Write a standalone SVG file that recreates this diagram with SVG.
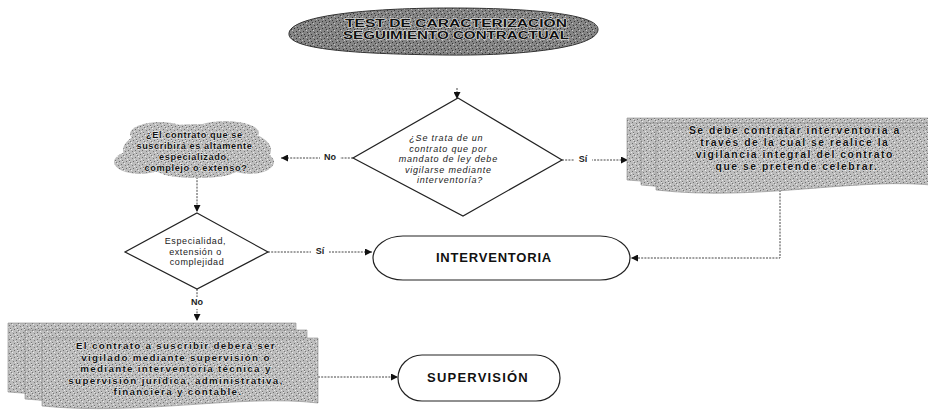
<svg xmlns="http://www.w3.org/2000/svg" width="928" height="415" viewBox="0 0 928 415">
<defs>
  <pattern id="stip" width="7" height="7" patternUnits="userSpaceOnUse">
    <rect width="7" height="7" fill="#bdbdbd"/>
    <rect x="0" y="0" width="1" height="1" fill="#6e6e6e"/>
    <rect x="4" y="1" width="1" height="1" fill="#777"/>
    <rect x="2" y="3" width="1" height="1" fill="#707070"/>
    <rect x="6" y="4" width="1" height="1" fill="#7a7a7a"/>
    <rect x="3" y="6" width="1" height="1" fill="#727272"/>
    <rect x="5" y="2" width="1" height="1" fill="#ececec"/>
    <rect x="1" y="5" width="1" height="1" fill="#e8e8e8"/>
    <rect x="3" y="0" width="1" height="1" fill="#e4e4e4"/>
  </pattern>
  <pattern id="stipDark" width="7" height="7" patternUnits="userSpaceOnUse">
    <rect width="7" height="7" fill="#858585"/>
    <rect x="0" y="0" width="1" height="1" fill="#333"/>
    <rect x="4" y="1" width="1" height="1" fill="#3a3a3a"/>
    <rect x="2" y="3" width="1" height="1" fill="#363636"/>
    <rect x="6" y="4" width="1" height="1" fill="#3c3c3c"/>
    <rect x="3" y="6" width="1" height="1" fill="#383838"/>
    <rect x="5" y="2" width="1" height="1" fill="#c8c8c8"/>
    <rect x="1" y="5" width="1" height="1" fill="#c0c0c0"/>
  </pattern>
  <marker id="arr" viewBox="0 0 10 10" refX="10" refY="5" markerWidth="7" markerHeight="7" orient="auto" markerUnits="userSpaceOnUse">
    <path d="M0,0 L10,5 L0,10 Z" fill="#111"/>
  </marker>
</defs>
<style>
  .conn { fill: none; stroke: #444; stroke-width: 1; stroke-dasharray: 2 1.2; }
  .lbl { font-family: "Liberation Sans", Arial, sans-serif; font-size: 9px; font-weight: bold; fill: #222; text-anchor: middle; dominant-baseline: middle; }
  .shape { stroke: #222; stroke-width: 1.2; fill: #fff; }
  .stip { fill: url(#stip); stroke: #8a8a8a; stroke-width: 0.6; }
  .btxt { font-family: "Liberation Sans", Arial, sans-serif; font-weight: bold; fill: #111; text-anchor: middle; stroke: #f2f2f2; stroke-width: 0.8; paint-order: stroke; }
  .dtxt { font-family: "Liberation Sans", Arial, sans-serif; fill: #222; text-anchor: middle; }
  .term { font-family: "Liberation Sans", Arial, sans-serif; font-weight: bold; fill: #111; text-anchor: middle; dominant-baseline: middle; }
</style>

<g id="connectors">
  <line class="conn" x1="457" y1="88" x2="457" y2="99" marker-end="url(#arr)"/>
  <line class="conn" x1="353" y1="158" x2="281" y2="158" marker-end="url(#arr)"/>
  <line class="conn" x1="197" y1="177" x2="197" y2="212" marker-end="url(#arr)"/>
  <line class="conn" x1="562" y1="160" x2="628" y2="160" marker-end="url(#arr)"/>
  <line class="conn" x1="268" y1="252" x2="372" y2="252" marker-end="url(#arr)"/>
  <polyline class="conn" points="780,190 780,258 631,258" marker-end="url(#arr)"/>
  <line class="conn" x1="197" y1="289" x2="197" y2="321" marker-end="url(#arr)"/>
  <line class="conn" x1="318" y1="377" x2="398" y2="377" marker-end="url(#arr)"/>
  <rect x="320" y="152" width="20" height="12" fill="#fff"/>
  <text class="lbl" x="330" y="158">No</text>
  <rect x="574" y="154" width="18" height="12" fill="#fff"/>
  <text class="lbl" x="583" y="160">Sí</text>
  <rect x="311" y="246" width="18" height="12" fill="#fff"/>
  <text class="lbl" x="320" y="252">Sí</text>
  <rect x="186" y="297" width="22" height="12" fill="#fff"/>
  <text class="lbl" x="197" y="303">No</text>
</g>

<g id="title">
  <path d="M289,33 C292,14 380,8 450,8 C530,8 600,14 598,30 C596,48 520,56 445,55 C360,54 286,50 289,33 Z" fill="url(#stipDark)" stroke="#333" stroke-width="1"/>
  <text class="btxt" x="456" y="27" font-size="10" textLength="222" lengthAdjust="spacingAndGlyphs">TEST DE CARACTERIZACIÓN</text>
  <text class="btxt" x="456" y="39" font-size="10" textLength="226" lengthAdjust="spacingAndGlyphs">SEGUIMIENTO CONTRACTUAL</text>
</g>

<g id="decision1">
  <polygon class="shape" points="458,98 562,160 463,216 353,158"/>
  <text class="dtxt" font-style="italic" font-size="9" letter-spacing="0.8">
    <tspan x="448" y="141">¿Se trata de un</tspan>
    <tspan x="450" y="151.5">contrato que por</tspan>
    <tspan x="450" y="162">mandato de ley debe</tspan>
    <tspan x="450" y="172.5">vigilarse mediante</tspan>
    <tspan x="450" y="183">interventoría?</tspan>
  </text>
</g>

<g id="cloud">
  <g fill="url(#stip)">
    <ellipse cx="197" cy="150" rx="74" ry="26"/>
    <ellipse cx="160" cy="134" rx="30" ry="12"/>
    <ellipse cx="225" cy="133" rx="34" ry="12"/>
    <ellipse cx="140" cy="162" rx="26" ry="12"/>
    <ellipse cx="250" cy="162" rx="24" ry="12"/>
    <ellipse cx="197" cy="170" rx="40" ry="8"/>
  </g>
  <text class="btxt" font-size="9.2" letter-spacing="0.6">
    <tspan x="196" y="138">¿El contrato que se</tspan>
    <tspan x="196" y="149">suscribirá es altamente</tspan>
    <tspan x="196" y="160">especializado,</tspan>
    <tspan x="196" y="171">complejo o extenso?</tspan>
  </text>
</g>

<g id="docRight">
  <path class="stip" d="M627,118 H940 V176 C860,166 760,192 627,180 Z"/>
  <path class="stip" d="M641,123 H940 V181 C860,171 760,197 641,185 Z"/>
  <path class="stip" d="M656,128 H940 V186 C860,176 760,202 656,190 Z"/>
  <text class="btxt" font-size="10.4" letter-spacing="1.5">
    <tspan x="797" y="134">Se debe contratar interventoría a</tspan>
    <tspan x="797" y="146">través de la cual se realice la</tspan>
    <tspan x="797" y="158">vigilancia integral del contrato</tspan>
    <tspan x="797" y="170">que se pretende celebrar.</tspan>
  </text>
</g>

<g id="decision2">
  <polygon class="shape" points="197,213 268,252 197,289 125,252"/>
  <text class="dtxt" font-size="9" letter-spacing="0.6">
    <tspan x="197" y="244">Especialidad,</tspan>
    <tspan x="197" y="254.5">extensión o</tspan>
    <tspan x="197" y="265">complejidad</tspan>
  </text>
</g>

<g id="interventoria">
  <rect class="shape" x="373" y="236" width="257" height="44" rx="30" ry="22"/>
  <text class="term" x="494" y="259" font-size="13" letter-spacing="0.8">INTERVENTORIA</text>
</g>

<g id="docBottom">
  <path class="stip" d="M8,323 H296 V389 C220,380 120,402 8,392 Z"/>
  <path class="stip" d="M25,330 H307 V396 C230,387 130,409 25,399 Z"/>
  <path class="stip" d="M42,338 H318 V403 C240,394 140,416 42,406 Z"/>
  <text class="btxt" font-size="9.8" letter-spacing="1.3">
    <tspan x="178" y="349">El contrato a suscribir deberá ser</tspan>
    <tspan x="178" y="360.5">vigilado mediante supervisión o</tspan>
    <tspan x="178" y="372">mediante interventoría técnica y</tspan>
    <tspan x="178" y="383.5">supervisión jurídica, administrativa,</tspan>
    <tspan x="178" y="395">financiera y contable.</tspan>
  </text>
</g>

<g id="supervision">
  <rect class="shape" x="398" y="355" width="162" height="46" rx="24" ry="23"/>
  <text class="term" x="478" y="379" font-size="13" letter-spacing="1.2">SUPERVISIÓN</text>
</g>
</svg>
